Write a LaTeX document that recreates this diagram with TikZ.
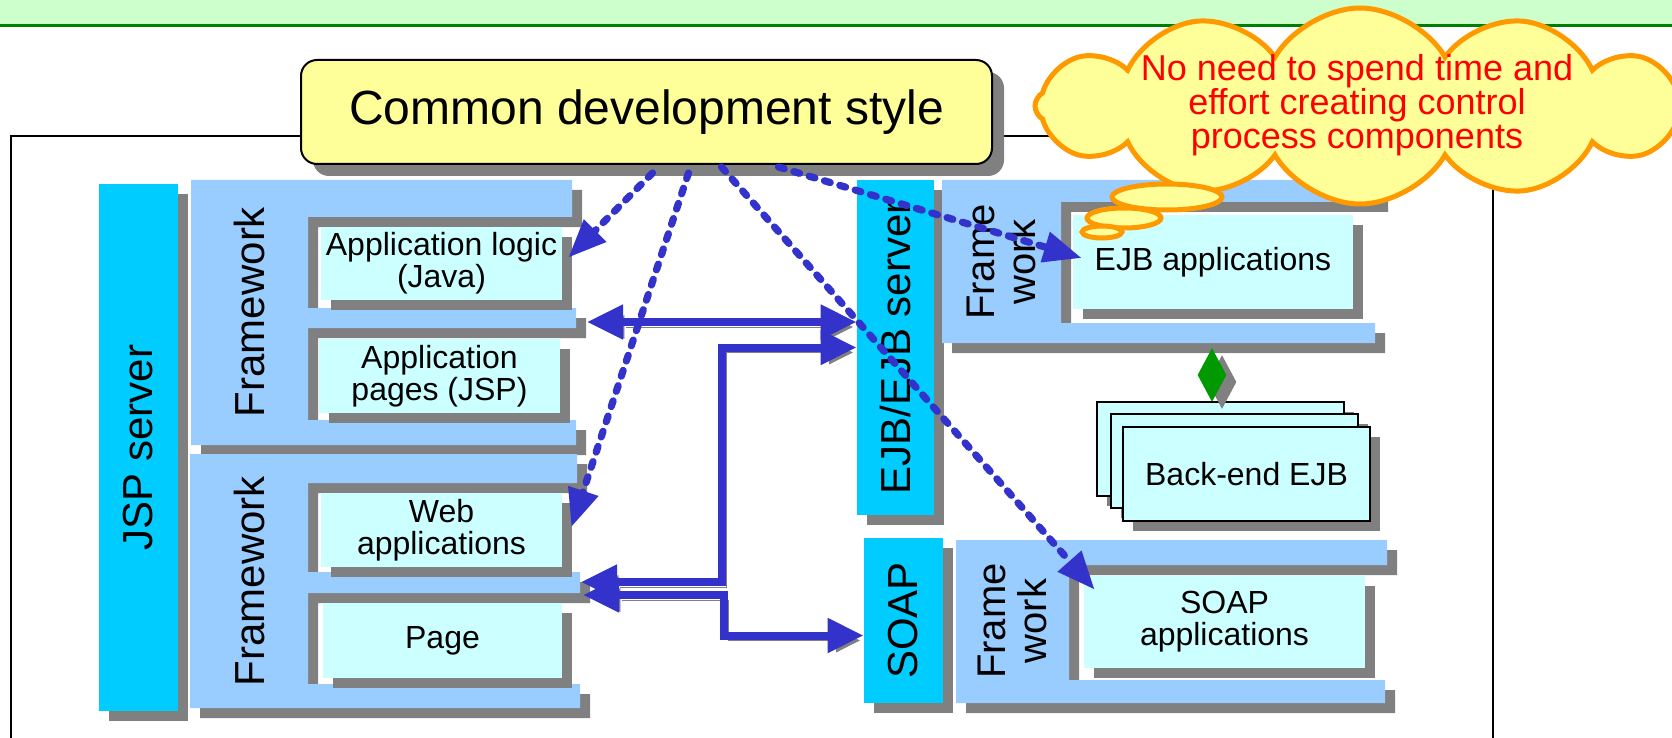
\documentclass[tikz,border=0pt]{standalone}
\usepackage{fontspec}
\setmainfont{Liberation Sans}
\usetikzlibrary{arrows.meta,calc,shadows,shapes.geometric,shapes.symbols}

\definecolor{srvcyan}{HTML}{00CCFF}
\definecolor{fwblue}{HTML}{99CCFF}
\definecolor{appcyan}{HTML}{CCFFFF}
\definecolor{shadegray}{HTML}{808080}
\definecolor{noteyellow}{HTML}{FFFF99}
\definecolor{cloudorange}{HTML}{FF9900}
\definecolor{arrowblue}{HTML}{3333CC}
\definecolor{relgreen}{HTML}{009900}
\definecolor{bannergreen}{HTML}{CCFFCC}
\definecolor{bannerline}{HTML}{008000}

\begin{document}
\begin{tikzpicture}[x=0.5pt,y=-0.5pt,
  boxshadow/.style={drop shadow={shadow xshift=5pt,shadow yshift=-5pt,fill=shadegray,opacity=1}},
  server/.style={fill=srvcyan,boxshadow,inner sep=0pt},
  appbox/.style={fill=appcyan,boxshadow,inner sep=0pt,align=center,font=\fontsize{16}{16}\selectfont},
  stackbox/.style={draw=black,line width=1pt,fill=appcyan,boxshadow,minimum width=123.5pt,minimum height=47pt,inner sep=0pt},
  biglabel/.style={rotate=90,align=center,font=\fontsize{21}{20.5}\selectfont},
  cloudline/.style={draw=cloudorange,fill=noteyellow,line width=2.5pt},
  link/.style={draw=arrowblue,line width=4pt,{Triangle[length=18pt,width=16.5pt]}-{Triangle[length=18pt,width=16.5pt]},
    preaction={draw=shadegray,transform canvas={shift={(2.5pt,-2.5pt)}}}},
  uses/.style={draw=arrowblue,line width=3.6pt,line cap=round,dash pattern=on 3pt off 5pt,
    -{Triangle[length=19pt,width=15pt]}}]
\useasboundingbox (0,0) rectangle (1672,738);
\clip (0,0) rectangle (1672,738);

% title band
\fill[bannergreen] (0,0) rectangle (1672,26);
\draw[bannerline,line width=1.5pt] (0,26) -- (1672,26);

% outer frame
\draw[line width=1pt] (11,760) -- (11,136) -- (1493,136) -- (1493,760);

% servers
\node[server,minimum width=39.5pt,minimum height=263.5pt] (jsp) at (138.5,447.5) {};
\node[server,minimum width=38.5pt,minimum height=167.5pt] (ejbsrv) at (895.5,347.5) {};
\node[server,minimum width=39.5pt,minimum height=82.5pt] (soapsrv) at (903.5,620.5) {};

% frameworks
\fill[fwblue,boxshadow] (191,180) -- (572,180) -- (572,217) -- (308,217) -- (308,308) -- (576,308)
  -- (576,328) -- (308,328) -- (308,420) -- (576,420) -- (576,445) -- (191,445) -- cycle;
\fill[fwblue,boxshadow] (190,454) -- (577,454) -- (577,483) -- (308,483) -- (308,572) -- (580,572)
  -- (580,593) -- (308,593) -- (308,684) -- (580,684) -- (580,708) -- (190,708) -- cycle;
\fill[fwblue,boxshadow] (942,180) -- (1378,180) -- (1378,202) -- (1061,202) -- (1061,323)
  -- (1375,323) -- (1375,343) -- (942,343) -- cycle;
\fill[fwblue,boxshadow] (956,540) -- (1387,540) -- (1387,565) -- (1069,565) -- (1069,680)
  -- (1385,680) -- (1385,703) -- (956,703) -- cycle;
\coordinate (tfmid) at (587,322);
\coordinate (bfmidA) at (581,582);
\coordinate (bfmidB) at (583,595);

% application boxes
\node[appbox,minimum width=120.5pt,minimum height=36.5pt] (applogic) at (441.5,263.5) {Application logic\\(Java)};
\node[appbox,minimum width=120.5pt,minimum height=37pt] (apppages) at (439.5,376) {Application\\pages (JSP)};
\node[appbox,minimum width=120.5pt,minimum height=37pt] (webapp) at (441.5,530) {Web\\applications};
\node[appbox,minimum width=119.5pt,minimum height=37.5pt] (page) at (442.5,640.5) {Page};
\node[appbox,minimum width=140pt,minimum height=47pt] (ejbapp) at (1213,262) {EJB applications};
\node[appbox,minimum width=140.5pt,minimum height=46pt] (soapapp) at (1224.5,622) {SOAP\\applications};

% back-end stack
\node[stackbox] (back3) at (1220.5,449) {};
\node[stackbox] (back2) at (1234,461) {};
\node[stackbox,font=\fontsize{16}{16}\selectfont] (back1) at (1246.5,474) {Back-end EJB};
\node[diamond,fill=relgreen,inner sep=0pt,minimum width=14.5pt,minimum height=27pt,
  drop shadow={shadow xshift=5pt,shadow yshift=-3.5pt,fill=shadegray,opacity=1}] (ejbrel) at (1212,375) {};

% calls between tiers
\draw[link] (tfmid) -- (tfmid -| ejbsrv.west);
\draw[link] (bfmidA) -| ($(ejbsrv.west)+(-135,0)$) -- (ejbsrv.west);
\draw[link] (bfmidB) -| ($(soapsrv.west)+(-140,15)$) -- ($(soapsrv.west)+(0,15)$);

% labels
\node[biglabel] (jsplabel) at (jsp) {JSP server};
\node[biglabel] (ejblabel) at (ejbsrv) {EJB/EJB server};
\node[biglabel] (soaplabel) at (soapsrv) {SOAP};
\node[biglabel] (tflabel) at (249.5,312) {Framework};
\node[biglabel] (bflabel) at (249,581) {Framework};
\node[biglabel,font=\fontsize{20}{20.5}\selectfont] (eflabel) at (1001,262) {Frame\\work};
\node[biglabel,font=\fontsize{20}{20.5}\selectfont] (sflabel) at (1012,621) {Frame\\work};

% common style reaches every part
\node[draw=black,line width=1pt,fill=noteyellow,rounded corners=8pt,minimum width=345.5pt,minimum height=52pt,
  drop shadow={shadow xshift=6pt,shadow yshift=-6pt,fill=shadegray,opacity=1},
  font=\fontsize{24}{24}\selectfont] (cds) at (646.5,112) {Common development style};
\draw[uses] ($(cds.south)+(6,8)$) -- ($(applogic.east)+(6,-6)$);
\draw[uses] ($(cds.south)+(42,8)$) -- ($(webapp.east)+(9,-3)$);
\draw[uses] ($(cds.south)+(75,2)$) -- ($(soapapp.north west)+(11,14)$);
\draw[uses] ($(cds.south)+(132,2)$) -- ($(ejbapp.west)+(9,-4)$);

% thought cloud
\node[cloud,cloud puffs=12,cloud puff arc=120,cloud ignores aspect,cloudline,inner sep=0pt,
  minimum width=325pt,minimum height=98pt] (note) at (1360,106) {};
\draw[cloudline] (1167,197) ellipse [x radius=55,y radius=13];
\draw[cloudline] (1124,218) ellipse [x radius=37,y radius=10];
\draw[cloudline] (1102,232) ellipse [x radius=20,y radius=6];
\node[text=red,align=center,font=\fontsize{18}{17}\selectfont] (notetext) at (1357,105)
  {No need to spend time and\\effort creating control\\process components};
\end{tikzpicture}
\end{document}
